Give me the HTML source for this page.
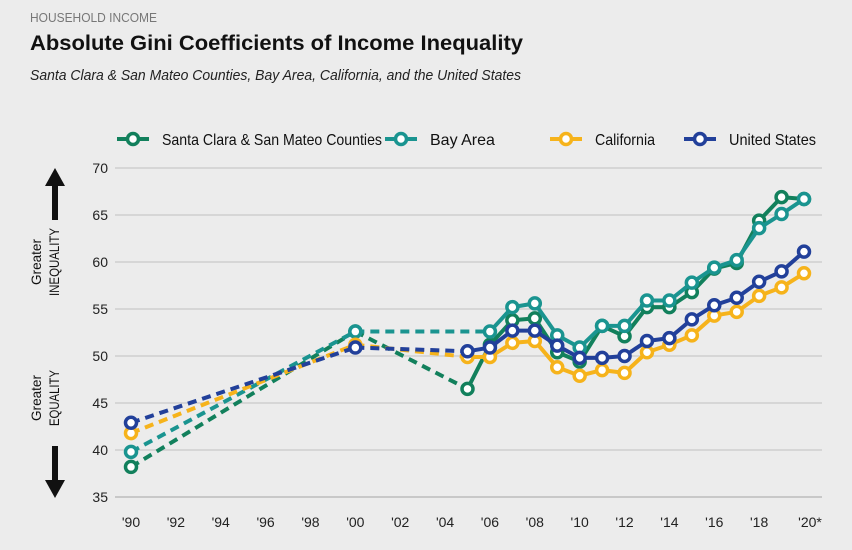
<!DOCTYPE html>
<html><head><meta charset="utf-8"><style>
body{margin:0;background:#ececec;width:852px;height:550px;overflow:hidden;font-family:"Liberation Sans",sans-serif}
</style></head><body>
<svg id="c" width="852" height="550" style="position:absolute;left:0;top:0">
<text x="30" y="22" font-size="13" fill="#777" textLength="127" lengthAdjust="spacingAndGlyphs">HOUSEHOLD INCOME</text>
<text x="30" y="50" font-size="21" font-weight="bold" fill="#111" textLength="493" lengthAdjust="spacingAndGlyphs">Absolute Gini Coefficients of Income Inequality</text>
<text x="30" y="80" font-size="15" font-style="italic" fill="#222" textLength="491" lengthAdjust="spacingAndGlyphs">Santa Clara &amp; San Mateo Counties, Bay Area, California, and the United States</text>
</svg>
<script>
const years=[1990,2000,2005,2006,2007,2008,2009,2010,2011,2012,2013,2014,2015,2016,2017,2018,2019,2020];
const scSM=[38.2,52.6,46.5,51.2,53.8,54.0,50.4,49.4,53.2,52.1,55.2,55.2,56.8,59.3,59.9,64.4,66.9,66.7];
const bay=[39.8,52.6,null,52.6,55.2,55.6,52.2,50.9,53.2,53.2,55.9,55.9,57.8,59.4,60.2,63.6,65.1,66.7];
const ca=[41.8,51.2,49.9,49.9,51.4,51.6,48.8,47.9,48.5,48.2,50.4,51.2,52.2,54.3,54.7,56.4,57.3,58.8];
const us=[42.9,50.9,50.5,50.9,52.7,52.7,51.1,49.8,49.8,50.0,51.6,51.9,53.9,55.4,56.2,57.9,59.0,61.1];
const yTicks=[35,40,45,50,55,60,65,70];
const xTickLabels=["'90","'92","'94","'96","'98","'00","'02","'04","'06","'08","'10","'12","'14","'16","'18","'20*"];
const seriesNames=["Santa Clara & San Mateo Counties","Bay Area","California","United States"];
const colors=["#12805c","#1a9490","#f6b31b","#22409a"];
const NS="http://www.w3.org/2000/svg",svg=document.getElementById('c');
const x=y=>131+(y-1990)*(804-131)/30;
const yv=v=>356-(v-50)*9.4;
function mk(t,a,p){const e=document.createElementNS(NS,t);for(const k in a)e.setAttribute(k,a[k]);(p||svg).appendChild(e);return e;}
yTicks.forEach(v=>{const g=mk('line',{x1:115,x2:822,y1:yv(v),y2:yv(v),stroke:v==35?'#c8c8c8':'#d6d6d6','stroke-width':2});

const t=mk('text',{x:108,y:yv(v)+5,'text-anchor':'end','font-size':14,fill:'#222'});t.textContent=v;
});
xTickLabels.forEach((l,i)=>{const t=mk('text',{x:x(1990+2*i)+(i==15?6:0),y:527,'text-anchor':'middle','font-size':14,fill:'#222'});t.textContent=l;
});
[scSM,bay,ca,us].forEach((d,si)=>{const g=mk('g',{});

const pts=[];years.forEach((yr,i)=>{if(d[i]!=null)pts.push([yr,d[i]]);});
for(let i=0;i<pts.length-1;i++){const a=pts[i],b=pts[i+1];const dash=b[0]<=2005||(a[0]<2006&&b[0]==2006&&a[0]<2005);
mk('line',{x1:x(a[0]),y1:yv(a[1]),x2:x(b[0]),y2:yv(b[1]),stroke:colors[si],'stroke-width':4,'stroke-dasharray':dash?'9,6':'none'},g);}
pts.forEach(p=>{const c=mk('circle',{cx:x(p[0]),cy:yv(p[1]),r:5.5,fill:'#fff',stroke:colors[si],'stroke-width':3.5},g);
});});
const lx=[117,385,550,684],lw=[220,0,60,87];
seriesNames.forEach((n,i)=>{const g=mk('g',{});
mk('line',{x1:lx[i],x2:lx[i]+32,y1:139,y2:139,stroke:colors[i],'stroke-width':4},g);
mk('circle',{cx:lx[i]+16,cy:139,r:5.5,fill:'#fff',stroke:colors[i],'stroke-width':3.5},g);
const t=mk('text',{x:lx[i]+45,y:145,'font-size':16,fill:'#111'},g);
if(lw[i]){t.setAttribute('textLength',lw[i]);t.setAttribute('lengthAdjust','spacingAndGlyphs');}
t.textContent=n;});
function vt(txt,cx,cy,fs,len){const t=mk('text',{x:cx,y:cy,'font-size':fs,fill:'#111','text-anchor':'middle',textLength:len,lengthAdjust:'spacingAndGlyphs',transform:`rotate(-90 ${cx} ${cy})`});t.textContent=txt;
}
vt('Greater',41,262,14,46);vt('INEQUALITY',59,262,14,68);vt('Greater',41,398,14,46);vt('EQUALITY',59,398,14,56);
mk('polygon',{points:'55,168 45,186 65,186',fill:'#111'});mk('rect',{x:52,y:184,width:6,height:36,fill:'#111'});
mk('polygon',{points:'55,498 45,480 65,480',fill:'#111'});mk('rect',{x:52,y:446,width:6,height:36,fill:'#111'});
</script>
</body></html>
